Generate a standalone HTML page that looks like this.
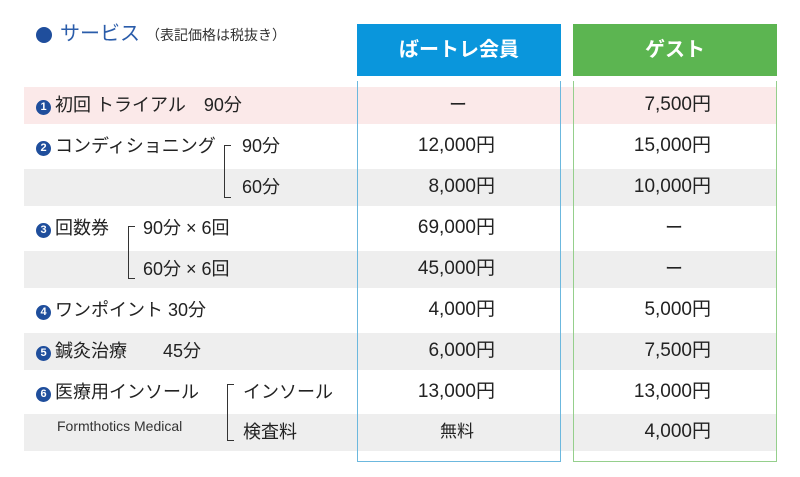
<!DOCTYPE html>
<html><head><meta charset="utf-8">
<style>
body{margin:0;width:800px;height:477px;background:#fff;position:relative;overflow:hidden;font-family:"Liberation Sans","Noto Sans CJK JP",sans-serif;color:#222}
.a{position:absolute}
.band{position:absolute;left:24px;width:753px;height:37px}
.t{position:absolute;font-size:18px;line-height:20px;white-space:nowrap}
.num{position:absolute;font-size:19px;line-height:20px;text-align:right;white-space:nowrap;width:150px}
.c{display:inline-block;width:15px;height:15px;border-radius:50%;background:#1f4e9c;color:#fff;font-size:11px;line-height:15px;text-align:center;font-weight:bold;vertical-align:1px;margin-right:4px}
.br{position:absolute;border-left:1.5px solid #333;border-top:1.5px solid #333;width:6px}
.br2{position:absolute;border-left:1.5px solid #333;border-bottom:1.5px solid #333;width:6px}
</style></head><body>
<div class="a" style="left:36px;top:27px;width:16px;height:16px;border-radius:50%;background:#1f4e9c"></div>
<div class="t" style="left:60px;top:23px;font-size:20px;color:#2a5caa;line-height:22px">サービス</div>
<div class="t" style="left:146px;top:25px;font-size:14px;color:#333">（表記価格は税抜き）</div>

<div class="band" style="top:87px;background:#fbe9e9"></div>
<div class="band" style="top:169px;background:#eeeeee"></div>
<div class="band" style="top:251px;background:#eeeeee"></div>
<div class="band" style="top:333px;background:#eeeeee"></div>
<div class="band" style="top:414px;background:#eeeeee"></div>

<div class="a" style="left:357px;top:24px;width:204px;height:52px;background:#0a96dc;color:#fff;font-size:20px;font-weight:bold;text-align:center;line-height:52px">ばートレ会員</div>
<div class="a" style="left:573px;top:24px;width:204px;height:52px;background:#5cb551;color:#fff;font-size:20px;font-weight:bold;text-align:center;line-height:52px">ゲスト</div>
<div class="a" style="left:357px;top:81px;width:202px;height:380px;border:1px solid #6cb8de;border-top:none"></div>
<div class="a" style="left:573px;top:81px;width:202px;height:380px;border:1px solid #95cf8c;border-top:none"></div>

<div class="t" style="left:36px;top:95px"><span class="c">1</span>初回 トライアル　90分</div>
<div class="t" style="left:36px;top:136px"><span class="c">2</span>コンディショニング</div>
<div class="br" style="left:224px;top:145px;height:26px"></div>
<div class="br2" style="left:224px;top:171px;height:26px"></div>
<div class="t" style="left:242px;top:136px">90分</div>
<div class="t" style="left:242px;top:177px">60分</div>
<div class="t" style="left:36px;top:218px"><span class="c">3</span>回数券</div>
<div class="br" style="left:128px;top:226px;height:26px"></div>
<div class="br2" style="left:128px;top:252px;height:26px"></div>
<div class="t" style="left:143px;top:218px">90分 × 6回</div>
<div class="t" style="left:143px;top:259px">60分 × 6回</div>
<div class="t" style="left:36px;top:300px"><span class="c">4</span>ワンポイント 30分</div>
<div class="t" style="left:36px;top:341px"><span class="c">5</span>鍼灸治療　　45分</div>
<div class="t" style="left:36px;top:382px"><span class="c">6</span>医療用インソール</div>
<div class="t" style="left:57px;top:416px;font-size:14px;color:#333">Formthotics Medical</div>
<div class="br" style="left:227px;top:384px;height:28px"></div>
<div class="br2" style="left:227px;top:412px;height:28px"></div>
<div class="t" style="left:243px;top:382px">インソール</div>
<div class="t" style="left:243px;top:422px">検査料</div>

<div class="t" style="left:449px;top:95px">ー</div>
<div class="num" style="left:345px;top:136px">12,000円</div>
<div class="num" style="left:345px;top:177px">8,000円</div>
<div class="num" style="left:345px;top:218px">69,000円</div>
<div class="num" style="left:345px;top:259px">45,000円</div>
<div class="num" style="left:345px;top:300px">4,000円</div>
<div class="num" style="left:345px;top:341px">6,000円</div>
<div class="num" style="left:345px;top:382px">13,000円</div>
<div class="t" style="left:440px;top:422px;font-size:17px">無料</div>

<div class="num" style="left:561px;top:95px">7,500円</div>
<div class="num" style="left:561px;top:136px">15,000円</div>
<div class="num" style="left:561px;top:177px">10,000円</div>
<div class="t" style="left:665px;top:218px">ー</div>
<div class="t" style="left:665px;top:259px">ー</div>
<div class="num" style="left:561px;top:300px">5,000円</div>
<div class="num" style="left:561px;top:341px">7,500円</div>
<div class="num" style="left:561px;top:382px">13,000円</div>
<div class="num" style="left:561px;top:422px">4,000円</div>
</body></html>
